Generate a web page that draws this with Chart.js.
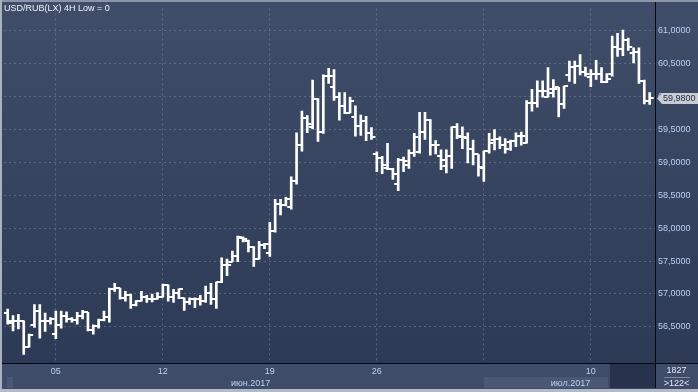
<!DOCTYPE html>
<html><head><meta charset="utf-8">
<script src="https://cdn.jsdelivr.net/npm/chart.js@4/dist/chart.umd.min.js"></script>
<style>html,body{margin:0;padding:0;background:#34425e;overflow:hidden}#c{display:block}</style>
</head><body>
<canvas id="c" width="698" height="392"></canvas>
<script>
const title = 'USD/RUB(LX) 4H Low = 0';
const opens = [56.71,56.59,56.59,56.59,56.20,56.53,56.74,56.59,56.59,56.39,
56.53,56.67,56.62,56.60,56.67,56.72,56.46,56.52,56.61,56.65,
57.08,57.09,56.94,56.99,56.84,56.89,56.95,56.93,56.93,56.95,
57.14,56.95,57.02,56.94,56.88,56.93,56.93,56.89,57.02,56.92,
57.18,57.44,57.49,57.58,57.85,57.80,57.72,57.53,57.75,57.63,
57.96,58.37,58.35,58.32,58.71,59.27,59.68,59.54,59.97,59.46,
60.31,60.14,59.99,59.86,59.75,59.69,59.56,59.63,59.45,59.12,
59.07,58.91,58.90,58.67,59.03,58.96,59.14,59.16,59.46,59.65,
59.26,59.10,58.95,59.09,59.53,59.39,59.37,59.21,59.12,58.92,
59.17,59.34,59.35,59.26,59.31,59.33,59.40,59.30,59.90,59.90,
60.08,59.99,60.12,60.14,59.89,60.33,60.45,60.47,60.37,60.29,
60.34,60.34,60.22,60.35,60.75,60.73,60.86,60.66,60.67,60.24,
59.94];
const highs = [56.77,56.67,56.69,56.59,56.39,56.84,56.84,56.71,56.64,56.74,
56.74,56.73,56.64,56.72,56.75,56.72,56.53,56.62,56.74,57.09,
57.16,57.09,57.04,57.00,56.90,57.04,56.98,57.00,57.02,57.15,
57.14,57.07,57.08,56.94,56.94,56.94,56.98,57.12,57.16,57.18,
57.55,57.53,57.65,57.88,57.87,57.82,57.72,57.80,57.77,58.09,
58.44,58.44,58.47,58.78,59.45,59.78,59.71,60.25,59.97,60.33,
60.43,60.41,60.06,60.06,59.99,59.86,59.72,59.70,59.53,59.16,
59.09,59.29,58.91,59.06,59.08,59.19,59.44,59.76,59.76,59.65,
59.33,59.19,59.19,59.54,59.59,59.54,59.45,59.34,59.12,59.17,
59.44,59.50,59.39,59.36,59.34,59.45,59.46,59.94,60.11,60.24,
60.24,60.44,60.26,60.14,60.16,60.54,60.54,60.64,60.45,60.41,
60.55,60.44,60.35,60.92,60.96,61.01,60.89,60.74,60.74,60.25,
60.06];
const lows = [56.54,56.44,56.47,56.08,56.19,56.49,56.33,56.43,56.54,56.32,
56.48,56.57,56.57,56.54,56.62,56.44,56.39,56.48,56.59,56.57,
57.04,56.92,56.89,56.78,56.82,56.89,56.87,56.88,56.92,56.95,
56.89,56.87,56.93,56.75,56.84,56.79,56.83,56.87,56.84,56.78,
57.17,57.28,57.49,57.49,57.79,57.64,57.42,57.53,57.69,57.57,
57.94,58.20,58.34,58.29,58.67,59.17,59.45,59.51,59.32,59.44,
60.20,59.94,59.64,59.74,59.75,59.40,59.41,59.33,59.35,58.86,
58.83,58.89,58.74,58.57,58.86,58.91,59.09,59.14,59.35,59.11,
59.13,58.89,58.84,58.91,59.36,59.21,58.99,58.96,58.79,58.71,
59.14,59.19,59.21,59.14,59.18,59.24,59.26,59.29,59.78,59.84,
59.99,59.99,59.99,59.69,59.82,60.23,60.20,60.33,60.31,60.15,
60.26,60.21,60.21,60.31,60.61,60.62,60.70,60.51,60.20,59.89,
59.88];
const closes = [56.56,56.59,56.59,56.20,56.37,56.74,56.59,56.59,56.62,56.53,
56.67,56.62,56.60,56.67,56.72,56.46,56.52,56.61,56.65,57.08,
57.09,56.94,56.99,56.84,56.89,56.95,56.93,56.93,56.95,57.14,
56.95,57.02,57.07,56.88,56.93,56.93,56.89,57.02,56.92,57.18,
57.44,57.44,57.58,57.87,57.84,57.72,57.53,57.75,57.76,57.96,
58.37,58.35,58.44,58.71,59.27,59.68,59.58,59.97,59.46,60.31,
60.31,59.99,59.85,59.75,59.94,59.56,59.63,59.45,59.39,59.07,
58.96,58.90,58.82,59.03,59.02,59.14,59.39,59.46,59.64,59.26,
59.26,59.03,59.09,59.53,59.40,59.38,59.21,59.12,58.93,59.17,
59.30,59.35,59.26,59.20,59.33,59.40,59.40,59.90,59.90,60.08,
60.09,60.06,60.12,59.89,60.16,60.45,60.46,60.37,60.34,60.34,
60.34,60.22,60.26,60.75,60.73,60.86,60.75,60.67,60.24,59.94,
59.98];
const weekTickIndex = [9, 29, 49, 69, 89, 109];
const weekTickLabels = ['05', '12', '19', '26', '', '10'];
const yTickValues = [56.5, 57, 57.5, 58, 58.5, 59, 59.5, 60, 60.5, 61];
const yTickLabels = ['56,5000','57,0000','57,5000','58,0000','58,5000','59,0000','59,5000','60,0000','60,5000','61,0000'];
const monthLabels = ['июн.2017', 'июл.2017'];
const lastPriceLabel = '59,9800';
const barCountLabel = '1827';
const visibleLabel = '>122<';

const FONT = '"Liberation Sans", Arial, sans-serif';

function tickImg(side) {
  const c = document.createElement('canvas');
  c.width = 10; c.height = 2;
  const g = c.getContext('2d');
  g.fillStyle = '#ffffff';
  if (side === 'open') g.fillRect(1, 0, 4, 2); else g.fillRect(5, 0, 4, 2);
  return c;
}

const idx = opens.map((_, i) => i);
const hlData = idx.map(i => ({x: i, y: [lows[i], highs[i]]}));
const openData = idx.map(i => ({x: i, y: opens[i]}));
const closeData = idx.map(i => ({x: i, y: closes[i]}));

const deco = {
  id: 'deco',
  beforeDraw(chart) {
    const {ctx, chartArea: a, width, height} = chart;
    const g = ctx.createLinearGradient(0, a.top, 0, a.bottom);
    g.addColorStop(0, '#3f4d68');
    g.addColorStop(1, '#2d3a56');
    ctx.fillStyle = g;
    ctx.fillRect(0, 0, width, a.bottom);
    ctx.fillStyle = '#3e4c69';
    ctx.fillRect(0, a.bottom, width, height - a.bottom);
    const xs = chart.scales.x;
    const bandL = xs.getPixelForValue(weekTickIndex[4]);
    ctx.fillStyle = '#4a5875';
    ctx.fillRect(bandL, a.bottom + 14, a.right - 47 - bandL, 11);
    ctx.fillStyle = '#4a5875';
    ctx.fillRect(7, a.bottom + 14, 6, 11);
    ctx.fillStyle = '#27334d';
    ctx.fillRect(a.right - 45, a.bottom + 1, 45, 24);
  },
  afterDraw(chart) {
    const {ctx, chartArea: a, width, height} = chart;
    const xs = chart.scales.x, ys = chart.scales.y;
    ctx.save();
    // axis lines
    ctx.fillStyle = '#05080f';
    ctx.fillRect(a.right, 0, 1, height - 4);
    ctx.fillRect(0, a.bottom, width, 1);
    // borders
    ctx.fillStyle = '#8c95a7';
    ctx.fillRect(0, 0, width, 2);
    ctx.fillStyle = '#aab2c1';
    ctx.fillRect(0, 0, 2, height);
    ctx.fillStyle = '#b3bac7';
    ctx.fillRect(0, height - 3, width, 3);
    // title
    ctx.font = '9px ' + FONT;
    ctx.fillStyle = '#f0f4fa';
    ctx.textBaseline = 'middle';
    ctx.textAlign = 'left';
    ctx.fillText(title, 4, 8.5);
    // month labels
    ctx.fillStyle = '#b8d2f2';
    ctx.textAlign = 'center';
    ctx.fillText(monthLabels[0], xs.getPixelForValue(45.4), a.bottom + 20.5);
    ctx.fillText(monthLabels[1], xs.getPixelForValue(105.2), a.bottom + 20.5);
    // bottom-right cell
    ctx.fillStyle = '#dfe8f5';
    ctx.fillText(barCountLabel, (a.right + width) / 2, a.bottom + 7.5);
    ctx.fillStyle = '#7f8aa0';
    ctx.fillRect(a.right + 9, a.bottom + 14, 26, 1);
    ctx.fillStyle = '#dfe8f5';
    ctx.fillText(visibleLabel, (a.right + width) / 2, a.bottom + 21);
    // last price tag
    const py = Math.round(ys.getPixelForValue(closes[closes.length - 1]));
    const x0 = a.right + 2;
    ctx.fillStyle = '#c9ccd2';
    ctx.beginPath();
    ctx.moveTo(x0, py + 0.5);
    ctx.lineTo(x0 + 5, py - 5);
    ctx.lineTo(width, py - 5);
    ctx.lineTo(width, py + 6);
    ctx.lineTo(x0 + 5, py + 6);
    ctx.closePath();
    ctx.fill();
    ctx.fillStyle = '#1d2a44';
    ctx.textAlign = 'left';
    ctx.fillText(lastPriceLabel, x0 + 6, py + 0.5);
    ctx.restore();
  }
};

new Chart(document.getElementById('c'), {
  type: 'bar',
  data: {
    datasets: [
      {type: 'bar', data: hlData, backgroundColor: '#ffffff', borderWidth: 0, barThickness: 2, grouped: false, order: 2},
      {type: 'scatter', data: openData, pointStyle: tickImg('open'), pointRadius: 3, pointHoverRadius: 3, order: 1},
      {type: 'scatter', data: closeData, pointStyle: tickImg('close'), pointRadius: 3, pointHoverRadius: 3, order: 1}
    ]
  },
  options: {
    responsive: false,
    animation: false,
    events: [],
    layout: {padding: {left: 3, top: 3, right: 0, bottom: 0}},
    plugins: {legend: {display: false}, tooltip: {enabled: false}},
    scales: {
      x: {
        type: 'linear', position: 'bottom', min: -0.69, max: 121.0, offset: false,
        afterFit(s) { s.height = 29; },
        afterBuildTicks(s) { s.ticks = weekTickIndex.map(v => ({value: v})); },
        grid: {color: 'rgba(120,135,160,0.55)', lineWidth: 1, drawTicks: false, offset: false},
        border: {display: false, dash: [2, 3]},
        ticks: {autoSkip: false, maxRotation: 0, padding: 3, color: '#b8d2f2',
          font: {family: FONT, size: 9},
          callback: (v, i) => weekTickLabels[i]}
      },
      y: {
        type: 'linear', position: 'right', min: 55.951, max: 61.34,
        afterFit(s) { s.width = 43; },
        afterBuildTicks(s) { s.ticks = yTickValues.map(v => ({value: v})); },
        grid: {color: 'rgba(120,135,160,0.55)', lineWidth: 1, drawTicks: false},
        border: {display: false, dash: [2, 3]},
        ticks: {padding: 3, color: '#b8d2f2', font: {family: FONT, size: 9},
          callback: (v, i) => yTickLabels[i]}
      }
    }
  },
  plugins: [deco]
});
</script>
</body></html>
